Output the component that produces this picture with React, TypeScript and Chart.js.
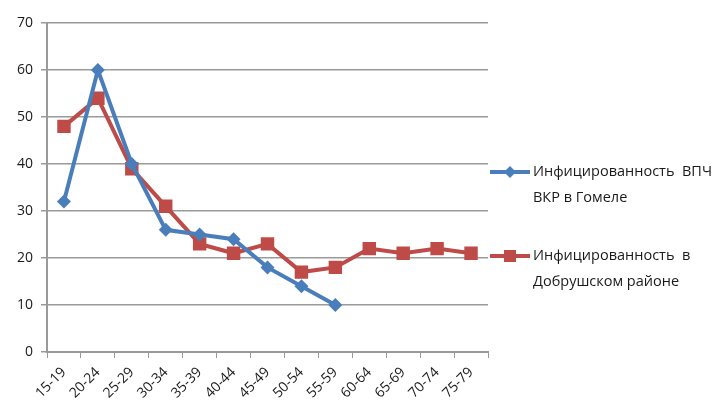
import React, { useEffect, useRef } from "react";
import { Chart, registerables } from "chart.js";

Chart.register(...registerables);

const ageGroups = ["15-19", "20-24", "25-29", "30-34", "35-39", "40-44", "45-49", "50-54", "55-59", "60-64", "65-69", "70-74", "75-79"];
const gomelValues = [32, 60, 40, 26, 25, 24, 18, 14, 10, null, null, null, null];
const dobrushValues = [48, 54, 39, 31, 23, 21, 23, 17, 18, 22, 21, 22, 21];
const legendLines = [
  ["Инфицированность  ВПЧ", "ВКР в Гомеле"],
  ["Инфицированность  в", "Добрушском районе"],
];
const yTicks = [0, 10, 20, 30, 40, 50, 60, 70];

const BLUE = "#4a7ebb";
const RED = "#be4b48";
const GRID = "#9a9a9a";
const FONT = "'Open Sans', 'Liberation Sans', sans-serif";

// Two-line legend entries drawn to the right of the plot.
const sideLegend = {
  id: "sideLegend",
  afterDraw(chart: any) {
    const ctx = chart.ctx as CanvasRenderingContext2D;
    const rows = [172, 256];
    chart.data.datasets.forEach((ds: any, i: number) => {
      const y = rows[i];
      const x0 = 490;
      const x1 = 530;
      ctx.save();
      ctx.strokeStyle = ds.borderColor;
      ctx.lineWidth = 4;
      ctx.beginPath();
      ctx.moveTo(x0, y);
      ctx.lineTo(x1, y);
      ctx.stroke();
      ctx.fillStyle = ds.pointBackgroundColor;
      const cx = (x0 + x1) / 2;
      if (ds.pointStyle === "rectRot") {
        const r = 6;
        ctx.beginPath();
        ctx.moveTo(cx, y - r);
        ctx.lineTo(cx + r, y);
        ctx.lineTo(cx, y + r);
        ctx.lineTo(cx - r, y);
        ctx.closePath();
        ctx.fill();
      } else {
        const s = 12;
        ctx.fillRect(cx - s / 2, y - s / 2, s, s);
      }
      ctx.fillStyle = "#1a1a1a";
      ctx.font = `14.5px ${FONT}`;
      ctx.textBaseline = "middle";
      ctx.textAlign = "left";
      legendLines[i].forEach((line, j) => {
        ctx.fillText(line, 533, y + j * 26);
      });
      ctx.restore();
    });
  },
};

export default function App() {
  const canvasRef = useRef<HTMLCanvasElement | null>(null);

  useEffect(() => {
    document.body.style.margin = "0";
    const canvas = canvasRef.current;
    if (!canvas) return;
    const chart = new Chart(canvas, {
      type: "line",
      data: {
        labels: ageGroups,
        datasets: [
          {
            label: legendLines[0].join(" "),
            data: gomelValues,
            borderColor: BLUE,
            backgroundColor: BLUE,
            pointBackgroundColor: BLUE,
            pointBorderColor: BLUE,
            borderWidth: 4,
            pointStyle: "rectRot",
            pointRadius: 7,
            pointBorderWidth: 0,
            tension: 0,
            spanGaps: false,
          },
          {
            label: legendLines[1].join(" "),
            data: dobrushValues,
            borderColor: RED,
            backgroundColor: RED,
            pointBackgroundColor: RED,
            pointBorderColor: RED,
            borderWidth: 4,
            pointStyle: "rect",
            pointRadius: 9.5,
            pointBorderWidth: 0,
            tension: 0,
          },
        ],
      },
      options: {
        animation: false,
        responsive: false,
        devicePixelRatio: 1,
        layout: { padding: { top: 23, right: 233, left: 0, bottom: 0 } },
        plugins: {
          legend: { display: false },
          tooltip: { enabled: false },
        },
        scales: {
          x: {
            type: "category",
            offset: true,
            grid: {
              offset: true,
              drawOnChartArea: false,
              drawTicks: true,
              tickLength: 6,
              color: GRID,
            },
            border: { color: GRID, width: 2 },
            ticks: {
              minRotation: 45,
              maxRotation: 45,
              autoSkip: false,
              color: "#1a1a1a",
              font: { family: FONT, size: 14 },
              padding: 6,
            },
            afterFit: (s: any) => {
              s.height = 58;
            },
          },
          y: {
            min: 0,
            max: 70,
            afterBuildTicks: (s: any) => {
              s.ticks = yTicks.map((v) => ({ value: v }));
            },
            grid: {
              color: GRID,
              lineWidth: 1.5,
              drawTicks: true,
              tickLength: 6,
            },
            border: { color: GRID, width: 2 },
            ticks: {
              color: "#1a1a1a",
              font: { family: FONT, size: 14 },
              padding: 8,
            },
            afterFit: (s: any) => {
              s.width = 47;
            },
          },
        },
      },
      plugins: [sideLegend],
    });
    return () => chart.destroy();
  }, []);

  return (
    <div style={{ position: "absolute", left: 0, top: 0, width: 721, height: 410, background: "#fff" }}>
      <canvas ref={canvasRef} width={721} height={410} style={{ width: 721, height: 410 }} />
    </div>
  );
}
